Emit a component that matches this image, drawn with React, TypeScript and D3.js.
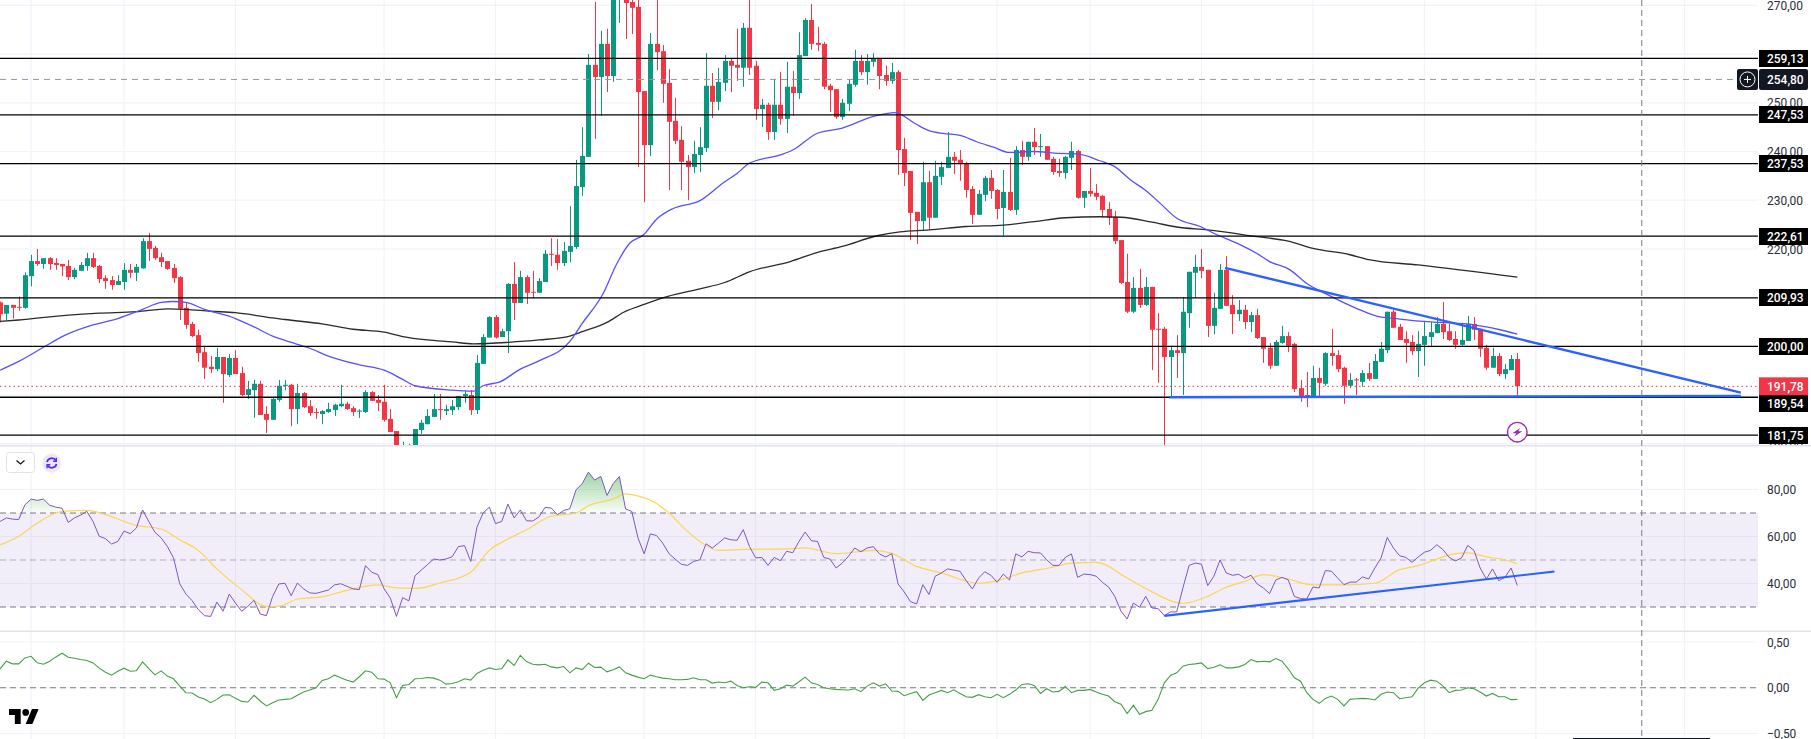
import * as d3 from "d3";

const WIDTH = 1811;
const HEIGHT = 739;

const opens = [
  209.0,206.7,208.5,208.1,207.9,214.4,217.5,216.9,218.1,217.1,
  216.9,216.5,214.2,215.5,216.5,218.1,216.5,214.0,213.6,212.6,
  213.2,215.7,215.1,216.0,221.6,220.2,218.3,217.5,216.1,214.2,
  207.9,204.6,202.3,198.8,195.8,195.3,197.8,194.1,197.6,194.5,
  190.0,191.0,192.3,186.1,184.9,189.0,191.9,192.1,187.1,190.4,
  187.7,186.5,186.1,186.5,186.9,187.7,188.2,187.3,186.6,186.5,
  190.6,189.0,188.6,185.1,182.6,178.0,179.0,178.9,182.8,184.0,
  185.5,187.1,186.7,186.9,187.5,189.8,190.0,186.9,196.4,201.8,
  206.0,201.9,203.1,212.8,208.9,214.2,211.2,211.0,213.2,219.0,
  218.8,217.1,219.4,220.4,232.7,238.9,257.8,255.3,262.1,255.5,
  271.5,274.0,270.7,269.7,252.4,241.3,262.1,260.6,254.1,246.3,
  242.4,238.1,236.8,239.3,240.7,253.5,250.2,254.1,258.6,257.8,
  257.2,265.4,257.6,248.7,249.6,244.0,249.6,246.7,253.3,252.0,
  259.6,267.0,262.3,262.1,253.5,252.8,247.1,249.8,253.7,258.6,
  256.3,258.4,259.0,255.7,254.5,256.3,240.5,236.0,227.6,225.7,
  233.7,226.4,234.8,236.6,238.9,238.3,237.6,232.3,227.0,231.1,
  234.6,232.1,228.4,231.7,228.0,240.3,238.9,242.0,240.9,241.1,
  238.5,236.0,235.6,238.7,240.1,230.5,231.9,231.5,230.9,228.2,
  226.6,221.8,213.2,207.1,212.0,208.5,212.2,203.6,203.6,197.8,
  199.2,198.6,206.8,215.1,216.3,215.7,204.2,207.7,215.7,208.5,
  206.6,207.5,205.0,206.4,201.9,199.7,196.0,200.7,202.1,200.5,
  191.4,190.0,189.4,193.5,192.3,198.6,198.2,195.6,191.9,193.2,
  192.7,194.5,193.3,196.8,199.2,207.1,204.0,201.5,200.9,199.0,
  200.3,201.9,202.7,204.6,203.1,201.5,200.3,201.1,204.6,203.6,
  199.7,195.6,198.0,194.3,195.1,197.4,
];
const highs = [
  209.2,208.5,208.5,210.2,215.2,218.8,220.0,218.1,218.3,218.1,
  216.9,217.7,216.1,217.3,219.2,219.2,216.7,214.6,214.4,214.6,
  217.1,216.9,216.9,222.2,223.3,220.6,219.2,217.5,216.9,214.4,
  209.1,205.0,203.4,199.9,198.0,199.7,197.8,198.4,199.2,195.8,
  192.9,193.1,192.9,187.7,189.4,193.1,193.1,192.3,192.3,190.6,
  189.0,187.3,186.9,188.4,188.2,192.1,188.6,187.7,187.1,191.0,
  190.8,190.0,192.1,187.1,182.6,180.4,180.0,183.0,184.9,187.1,
  190.2,190.2,188.0,189.0,189.8,190.8,191.0,198.2,202.5,206.2,
  206.4,203.6,213.0,217.3,215.5,214.6,215.5,214.0,219.8,222.2,
  222.0,221.4,228.8,238.3,245.0,260.0,270.7,264.8,265.2,274.0,
  277.0,275.0,272.0,272.0,252.4,264.3,272.0,261.9,256.9,251.0,
  245.2,239.3,242.2,245.0,260.2,256.1,257.2,259.8,259.0,265.2,
  266.4,271.5,258.6,250.8,250.0,254.9,256.3,258.4,256.5,264.5,
  267.4,270.3,265.6,262.5,253.9,252.8,250.8,254.9,260.9,259.8,
  260.0,260.2,259.0,257.6,258.2,256.7,242.8,236.0,227.6,237.9,
  236.0,238.1,237.9,244.0,239.9,240.3,237.9,232.9,232.1,235.0,
  236.2,232.3,236.2,238.7,241.1,242.2,242.0,244.8,243.6,241.1,
  238.9,238.5,239.1,242.0,240.3,231.9,236.6,233.3,231.1,229.6,
  227.8,221.8,219.0,214.2,215.9,214.2,212.2,206.8,204.0,200.1,
  202.3,210.1,215.3,218.8,220.0,215.7,211.0,216.9,218.5,210.5,
  209.5,208.5,207.1,207.7,201.9,200.7,201.3,204.2,202.9,200.7,
  193.1,194.7,196.0,195.6,198.8,203.6,199.2,195.8,194.5,193.5,
  195.1,196.6,198.4,200.9,207.1,207.5,204.6,203.1,202.3,203.1,
  205.2,205.0,206.0,209.1,204.6,203.1,204.8,206.2,206.0,203.6,
  200.3,199.7,198.6,196.4,198.2,198.6,
];
const lows = [
  204.9,205.4,205.7,207.3,207.7,212.3,216.5,215.9,215.7,215.7,
  214.4,213.6,213.8,215.5,215.5,216.1,213.0,211.8,211.6,212.6,
  211.6,214.0,213.4,215.9,217.5,217.7,216.3,215.7,213.0,205.4,
  203.6,201.9,196.8,193.3,194.5,194.9,188.4,193.7,194.3,189.8,
  189.2,185.3,185.9,182.2,184.9,188.6,191.0,183.6,184.0,187.3,
  185.7,185.1,184.0,186.3,185.7,187.5,186.9,185.7,185.3,186.3,
  188.8,186.7,184.5,182.4,178.8,177.0,178.0,178.5,182.0,184.0,
  185.5,184.9,185.9,185.9,186.9,188.4,185.9,186.1,196.4,201.8,
  201.6,201.9,198.6,205.4,208.9,208.7,209.9,211.0,213.2,216.5,
  215.7,216.5,217.3,220.0,230.9,238.9,242.6,247.3,252.2,254.3,
  266.4,263.1,264.1,236.8,229.6,239.1,256.7,250.0,232.1,241.5,
  232.1,230.0,235.6,235.8,239.9,246.9,248.5,252.4,252.2,254.5,
  253.3,255.7,246.5,245.0,242.4,242.4,245.5,243.8,247.3,250.8,
  259.6,260.9,260.6,252.8,248.1,246.7,246.5,248.3,253.3,255.7,
  253.7,257.4,252.8,253.5,253.9,235.2,232.9,221.8,221.0,223.9,
  224.1,226.4,233.1,236.6,235.4,234.0,230.5,225.1,227.0,229.8,
  230.3,226.1,222.7,227.8,227.0,237.2,238.1,239.3,238.9,238.3,
  235.2,234.8,234.4,236.2,230.3,228.4,230.7,230.0,226.4,224.9,
  221.0,212.8,206.8,206.8,207.9,208.3,195.1,192.5,179.5,189.6,
  193.5,190.0,203.8,209.9,214.0,201.9,202.5,207.7,208.3,202.5,
  205.2,203.6,202.9,201.5,196.6,195.3,196.0,200.5,198.8,190.6,
  188.6,187.5,189.4,189.4,191.9,196.0,194.7,188.2,191.4,190.0,
  191.7,192.9,193.3,196.8,198.6,203.8,201.3,196.6,198.2,193.7,
  196.0,200.1,202.7,201.5,201.1,199.5,200.1,201.1,201.3,197.8,
  195.1,195.6,193.9,193.3,195.1,189.6,
];
const closes = [
  206.6,208.5,207.9,207.9,214.6,217.5,216.9,218.1,216.9,216.7,
  216.4,214.2,215.7,216.7,218.1,216.3,213.8,213.4,212.6,213.4,
  215.7,215.1,216.3,221.6,220.0,218.1,217.3,215.9,214.0,207.7,
  204.4,202.1,198.6,195.6,195.3,197.8,194.3,197.6,194.3,190.0,
  191.2,192.3,185.9,184.9,189.2,191.9,192.1,187.1,190.4,187.5,
  186.3,186.3,186.7,187.1,188.0,188.2,187.1,186.5,186.8,190.6,
  188.8,188.4,184.9,182.4,179.2,179.0,178.5,183.0,184.3,185.7,
  187.1,186.9,187.1,187.7,189.8,190.2,186.9,196.6,201.9,206.0,
  201.8,203.1,212.8,208.9,214.2,211.0,211.0,213.4,219.0,218.8,
  217.1,219.6,220.6,232.9,239.1,257.8,255.3,262.1,255.5,272.5,
  275.0,270.5,269.5,252.2,241.3,262.1,260.4,253.9,246.1,242.2,
  237.9,236.8,239.5,240.9,253.5,250.2,254.3,258.6,257.6,257.2,
  265.4,257.2,248.7,249.6,244.0,249.6,246.7,253.3,252.0,259.8,
  267.0,262.1,261.9,253.3,252.6,247.1,250.0,253.9,258.6,256.3,
  258.6,259.0,255.5,254.5,256.3,240.3,235.6,227.4,225.7,233.7,
  226.4,235.0,236.8,238.9,238.1,237.4,232.1,227.0,231.3,234.6,
  231.9,228.2,231.7,228.0,240.3,238.9,242.0,240.9,241.1,238.3,
  235.8,235.6,238.9,240.1,230.5,231.9,231.3,230.7,228.0,226.4,
  221.6,213.0,207.1,212.0,208.5,212.2,203.4,203.4,197.8,199.2,
  198.6,207.1,215.3,216.3,215.5,204.2,207.9,215.7,208.3,206.6,
  207.5,205.0,206.4,201.7,199.5,196.0,200.9,202.1,200.1,191.2,
  189.8,189.4,193.5,192.5,198.6,198.0,195.3,191.9,193.1,193.0,
  194.5,193.3,197.0,199.5,207.1,203.8,201.3,200.7,199.0,200.5,
  202.1,202.9,204.6,202.9,201.3,200.3,201.3,204.6,203.4,199.5,
  195.6,198.0,194.3,195.3,197.4,191.8,
];

const fastMa: [number, number][] = [
  [0,195.1],[3,196.9],[7,199.8],[10,202.0],[15,204.4],[19,205.7],[23,207.6],[26,209.0],[28,209.2],[30,209.0],
  [33,207.6],[38,205.7],[41,204.0],[44,202.1],[46,201.2],[50,199.6],[53,198.0],[58,196.2],[62,195.1],[65,193.2],
  [67,191.9],[73,191.0],[76.4,190.8],[78,191.9],[80.7,192.7],[84,195.3],[87,197.0],[92,201.0],[94,204.7],[97.4,210.9],
  [99.6,217.0],[101.7,221.2],[103.9,222.9],[106,226.1],[108.7,228.3],[113,229.9],[116.8,233.6],[119,235.5],[121,237.6],[126,239.3],
  [128,240.3],[131.9,243.7],[136,244.8],[141,247.2],[144.5,248.0],[147.8,245.7],[150,244.3],[152.3,243.7],[155,243.3],[157.7,242.0],
  [160.4,240.9],[163,239.8],[166.9,240.0],[171,239.6],[173.9,239.5],[177.6,238.1],[180,236.9],[182.5,234.2],[185,232.0],[187.3,229.4],
  [190,226.3],[193.8,224.6],[196.5,222.9],[199.7,221.2],[202.9,219.1],[205,217.4],[208.3,215.7],[211,212.9],[214.2,210.7],[219,207.8],
  [222.3,206.2],[226,205.6],[229.9,205.1],[232.5,204.9],[238,204.4],[242.2,203.4],[245,202.5],
];
const slowMa: [number, number][] = [
  [0,205.1],[3,205.4],[11,206.4],[16,206.8],[22,207.1],[27,207.7],[30,207.6],[34,207.2],[38,206.9],[41,206.4],
  [43,206.0],[46,205.5],[52,204.6],[57,203.5],[62,202.9],[65,202.0],[69,201.3],[73,200.9],[76.4,200.5],[82,200.8],
  [87,201.3],[92,202.1],[94,203.0],[98,204.9],[100.7,207.0],[104,208.6],[107.7,210.2],[113,211.8],[117,213.1],[121,215.3],
  [127.6,217.4],[132,219.3],[136,220.5],[141.6,222.7],[145.3,223.5],[150,223.9],[156,224.6],[162,224.9],[167,225.6],[172,226.4],
  [177.6,226.6],[181,226.5],[186,225.5],[190,224.5],[195,223.9],[203,222.5],[208,221.6],[212,220.1],[218,218.8],[221,217.8],
  [229,216.7],[245,214.2],
];

const rsi = [
  66.4,67.9,67.4,67.2,73.5,75.9,75.4,75.9,73.3,72.5,72.0,66.0,67.9,69.1,70.7,66.4,60.1,59.1,56.8,57.9,
  62.3,61.2,63.6,71.3,66.4,61.8,59.4,55.8,50.9,39.9,35.5,32.7,28.9,26.3,26.0,32.1,28.2,35.5,31.7,28.2,
  30.3,32.8,27.0,26.3,34.5,39.8,40.1,34.8,40.2,37.7,36.0,35.8,36.5,37.2,39.4,39.9,38.8,37.7,37.4,47.6,
  44.8,43.8,37.8,33.8,26.0,34.0,32.6,43.3,45.7,48.0,50.4,50.0,50.4,51.4,55.7,56.1,49.4,64.0,70.0,72.5,
  65.5,66.4,73.8,67.9,71.3,66.7,66.6,68.3,72.4,72.1,69.3,71.1,71.8,79.9,82.5,87.4,84.0,85.6,77.5,82.5,
  85.5,71.7,70.7,59.4,52.6,61.1,60.4,57.2,52.7,50.4,48.2,47.7,49.4,50.1,56.9,55.1,57.2,59.4,58.6,58.4,
  62.9,55.8,50.9,51.1,47.7,51.1,49.7,53.7,53.1,57.9,61.9,58.2,57.9,51.1,50.4,46.6,48.7,51.6,55.1,53.5,
  55.1,55.7,52.6,51.3,52.7,39.8,36.4,32.3,31.3,39.5,35.3,43.1,44.5,46.2,45.7,45.2,41.2,37.7,42.3,45.0,
  43.5,40.5,44.0,41.5,52.6,51.3,53.7,53.1,53.0,50.1,47.7,47.7,51.1,52.6,42.6,44.0,43.8,43.1,40.5,38.5,
  34.5,28.2,24.9,31.7,29.9,34.5,29.6,29.3,26.3,27.9,27.9,38.1,47.7,48.7,48.2,39.1,43.1,50.0,44.5,43.5,
  43.9,42.3,43.5,39.8,38.1,35.7,41.5,42.6,41.6,34.5,33.6,33.4,38.5,38.1,45.5,45.2,42.3,39.5,40.6,40.6,
  42.8,41.9,46.6,50.9,59.6,55.1,51.8,51.1,49.0,51.3,53.3,54.1,56.5,54.4,51.1,49.6,50.9,56.2,54.1,46.6,
  41.9,46.2,41.2,42.6,46.6,39.2,
];
const rsiMa: [number, number][] = [
  [0,56.4],[3,60.1],[6,65.7],[9,70.0],[10,70.7],[14,71.1],[17,69.3],[22,64.7],[26,63.2],[29,58.6],
  [32,54.1],[35,46.2],[39,37.4],[43,30.3],[45,30.3],[48,33.4],[52,34.3],[56,37.1],[61,39.4],[64,38.1],
  [67,37.9],[71,40.2],[76,44.8],[79,54.1],[82,58.9],[85,62.9],[89,68.6],[93,70.0],[95,73.1],[99,75.9],
  [101,78.1],[102,77.8],[106,74.0],[108,70.0],[111,62.2],[113,57.9],[116,54.1],[120,54.5],[127,54.7],[130,55.2],
  [135,52.7],[141,54.1],[144,52.8],[148,47.3],[152,44.5],[158,40.1],[161,41.2],[165,44.5],[170,46.9],[173,48.7],
  [177,49.0],[182,42.3],[185,37.9],[191,31.6],[195,34.5],[198,38.4],[201,40.9],[204,43.8],[208,41.9],[212,39.4],
  [217,39.4],[222,40.1],[226,45.9],[229,47.6],[232,50.4],[235,52.7],[237,53.0],[240,51.3],[243,50.1],[245,48.4],
];
const oscillator = [
  .207,.290,.261,.261,.326,.344,.272,.257,.290,.337,.377,.333,.322,.308,.297,.272,.214,.170,.138,.181,
  .214,.181,.185,.283,.210,.141,.185,.127,.098,.018,-.054,-.058,-.101,-.123,-.163,-.127,-.080,-.076,-.116,-.149,
  -.156,-.083,-.145,-.199,-.163,-.134,-.127,-.120,-.083,-.047,-.025,0,.080,.098,.138,.109,.083,.062,.120,.185,
  .170,.098,.094,.054,-.109,.025,.036,.098,.101,.112,.105,.083,.040,.047,.065,.098,.083,.156,.192,.217,
  .199,.207,.304,.243,.355,.286,.257,.250,.257,.228,.217,.232,.163,.217,.199,.268,.221,.225,.174,.196,
  .228,.163,.138,.116,.098,.138,.120,.105,.098,.087,.087,.091,.109,.087,.087,.051,.062,.054,.072,.025,
  0,.011,.004,.062,.054,-.029,-.011,.029,.018,.065,.116,.054,.036,0,-.011,-.018,-.022,-.025,-.011,-.043,
  .018,.054,.018,.043,-.036,-.040,-.087,-.062,-.043,-.138,-.080,-.054,-.029,-.054,-.022,-.062,-.098,-.105,-.076,-.098,
  -.109,-.072,-.109,-.072,-.025,.036,.043,.025,-.062,-.011,-.047,-.040,.014,-.054,-.029,-.029,-.018,-.047,-.072,-.091,
  -.152,-.181,-.283,-.192,-.290,-.261,-.246,-.127,.054,.134,.163,.236,.254,.261,.272,.210,.225,.250,.217,.217,
  .228,.254,.308,.283,.290,.283,.319,.290,.207,.109,.072,-.054,-.127,-.170,-.116,-.091,-.127,-.199,-.127,-.120,
  -.116,-.120,-.134,-.072,-.047,-.054,-.120,-.109,-.098,-.004,.054,.083,.072,.018,-.054,-.029,-.025,0,-.011,-.047,
  -.091,-.062,-.098,-.098,-.130,-.127,
];

const levels = [259.13, 247.53, 237.53, 222.61, 209.93, 200.0, 189.54, 181.75];
const lastClose = 191.78;
const crosshairPrice = 254.8;
const crosshairBar = 265.1;
const priceTicks = [270, 260, 250, 240, 230, 220, 210, 200, 190, 180];
const rsiTicks = [80, 60, 40];
const rsiBands = [70, 50, 30];
const oscTicks = [0.5, 0, -0.5];
const timeGridBars = [5, 20, 38, 62, 80, 104, 122, 146, 161, 176, 194, 212, 230, 248, 272];

// trend lines: [bar, value] pairs
const fallingLine: [number, number][] = [[197.8, 216.1], [281.1, 190.5]];
const supportLine: [number, number][] = [[188.8, 189.55], [281.1, 189.8]];
const rsiLine: [number, number][] = [[188, 26.2], [251, 45.1]];

const AXIS_X = 1758;
const MAIN_BOTTOM = 445;
const RSI_BOTTOM = 631;

const x = d3.scaleLinear().domain([0, 245]).range([0.14, 1517.3]);
const yPrice = d3.scaleLinear().domain([270, 180]).range([5.4, 443.7]);
const yRsi = d3.scaleLinear().domain([70, 30]).range([513, 607]);
const yOsc = d3.scaleLinear().domain([0.5, -0.5]).range([642, 733.5]);

const fmt = d3.formatLocale({ decimal: ",", thousands: ".", grouping: [3], currency: ["", ""], minus: "\u2212" }).format(".2f");

const GREEN = "#089981";
const RED = "#f23645";
const GRID = "#f0f3fa";
const DASH = "#787b86";
const FONT = "Roboto, 'Liberation Sans', sans-serif";

const pairLine = (y: d3.ScaleLinear<number, number>, smooth = false) => {
  const l = d3.line<[number, number]>().x((d) => x(d[0])).y((d) => y(d[1]));
  return smooth ? l.curve(d3.curveMonotoneX) : l;
};

const rsiPairs = rsi.map((v, i) => [i, v] as [number, number]);
const oscPairs = oscillator.map((v, i) => [i, v] as [number, number]);

function priceLabels() {
  // labels sit on their price, one that would overlap the last price is pushed below it
  const h = 18;
  const lastTop = yPrice(lastClose) - h / 2;
  return levels.map((p) => {
    let top = yPrice(p) - h / 2 + 0.5;
    if (top < lastTop + h && top > lastTop - h) top = lastTop + h;
    return { p, top: Math.round(top), h: 17 };
  });
}

// axis text in the reference is a bit narrower than the font, so squeeze it
function AxisText({ y, label, light }: { y: number; label: string; light?: boolean }) {
  return (
    <text
      transform={`translate(1767,${y}) scale(0.92,1)`}
      dy="0.36em"
      fontFamily={FONT}
      fontSize={13}
      fontWeight={light ? 500 : 400}
      fill={light ? "#fff" : "#2a2e39"}
    >
      {label}
    </text>
  );
}

export default function App() {
  return (
    <svg
      width={WIDTH}
      height={HEIGHT}
      viewBox={`0 0 ${WIDTH} ${HEIGHT}`}
      style={{ position: "absolute", left: 0, top: 0, display: "block", background: "#fff" }}
    >
      <defs>
        <clipPath id="mainClip"><rect x={0} y={0} width={AXIS_X} height={MAIN_BOTTOM} /></clipPath>
        <clipPath id="mainAxisClip"><rect x={AXIS_X} y={0} width={WIDTH - AXIS_X} height={MAIN_BOTTOM} /></clipPath>
        <clipPath id="above70"><rect x={0} y={445} width={AXIS_X} height={yRsi(70) - 445} /></clipPath>
        <clipPath id="below30"><rect x={0} y={yRsi(30)} width={AXIS_X} height={RSI_BOTTOM - yRsi(30)} /></clipPath>
        <linearGradient id="obFill" gradientUnits="userSpaceOnUse" x1={0} x2={0} y1={yRsi(88)} y2={yRsi(70)}>
          <stop offset="0" stopColor="#4caf50" stopOpacity={0.55} />
          <stop offset="1" stopColor="#4caf50" stopOpacity={0.03} />
        </linearGradient>
      </defs>

      {/* grid */}
      <g stroke={GRID} strokeWidth={1.2}>
        {timeGridBars.map((b) => (
          <line key={b} x1={x(b)} x2={x(b)} y1={0} y2={HEIGHT} />
        ))}
        {priceTicks.map((t) => (
          <line key={t} x1={0} x2={AXIS_X} y1={yPrice(t)} y2={yPrice(t)} />
        ))}
        {rsiTicks.map((t) => (
          <line key={t} x1={0} x2={AXIS_X} y1={yRsi(t)} y2={yRsi(t)} />
        ))}
        {oscTicks.map((t) => (
          <line key={t} x1={0} x2={AXIS_X} y1={yOsc(t)} y2={yOsc(t)} />
        ))}
      </g>

      {/* main pane */}
      <g clipPath="url(#mainClip)">
        {opens.map((o, i) => {
          const c = closes[i];
          const col = c >= o ? GREEN : RED;
          const cx = Math.round(x(i));
          const top = yPrice(Math.max(o, c));
          const bot = yPrice(Math.min(o, c));
          return (
            <g key={i}>
              <line x1={cx + 0.5} x2={cx + 0.5} y1={yPrice(highs[i])} y2={yPrice(lows[i])} stroke={col} strokeWidth={1} />
              <rect x={cx - 2} y={top} width={5} height={Math.max(bot - top, 1)} fill={col} />
            </g>
          );
        })}
        <path d={pairLine(yPrice, true)(slowMa) ?? ""} fill="none" stroke="#2a2a2a" strokeWidth={1.3} />
        <path d={pairLine(yPrice, true)(fastMa) ?? ""} fill="none" stroke="#5650ff" strokeWidth={1.3} />

        <line x1={0} x2={AXIS_X} y1={yPrice(lastClose)} y2={yPrice(lastClose)} stroke={RED} strokeWidth={1} strokeDasharray="1.5 3" />
        {levels.map((p) => (
          <line key={p} x1={0} x2={AXIS_X} y1={yPrice(p)} y2={yPrice(p)} stroke="#000" strokeWidth={1.3} />
        ))}
        <path d={pairLine(yPrice)(fallingLine) ?? ""} fill="none" stroke="#2962ff" strokeWidth={2.4} />
        <path d={pairLine(yPrice)(supportLine) ?? ""} fill="none" stroke="#2962ff" strokeWidth={2.4} />
        <line x1={0} x2={AXIS_X - 21} y1={yPrice(crosshairPrice)} y2={yPrice(crosshairPrice)} stroke="#9598a1" strokeWidth={1} strokeDasharray="6 5" />

        {/* lightning marker on the last bar */}
        <g transform={`translate(${x(245)},${yPrice(181.75) - 3})`}>
          <circle r={9.8} fill="#fff" stroke="#9c27b0" strokeWidth={1.4} />
          <path d="M2.8,-4.2 L-5,1 L-1,1 L-3,4.4 L5,-1 L1,-1 Z" fill="#9c27b0" />
        </g>
      </g>

      {/* rsi pane */}
      <rect x={0} y={yRsi(70)} width={AXIS_X} height={yRsi(30) - yRsi(70)} fill="#7e57c2" fillOpacity={0.1} />
      <path
        d={d3.area<[number, number]>().x((d) => x(d[0])).y0(yRsi(70)).y1((d) => yRsi(d[1]))(rsiPairs) ?? ""}
        fill="url(#obFill)"
        clipPath="url(#above70)"
      />
      <path
        d={d3.area<[number, number]>().x((d) => x(d[0])).y0(yRsi(30)).y1((d) => yRsi(d[1]))(rsiPairs) ?? ""}
        fill="#f23645"
        fillOpacity={0.07}
        clipPath="url(#below30)"
      />
      {rsiBands.map((b) => (
        <line
          key={b}
          x1={0}
          x2={AXIS_X}
          y1={yRsi(b)}
          y2={yRsi(b)}
          stroke={DASH}
          strokeOpacity={b === 50 ? 0.55 : 1}
          strokeWidth={1}
          strokeDasharray="6 4"
        />
      ))}
      <path d={pairLine(yRsi, true)(rsiMa) ?? ""} fill="none" stroke="#fdd54f" strokeWidth={1.2} />
      <path d={pairLine(yRsi)(rsiPairs) ?? ""} fill="none" stroke="#7e57c2" strokeWidth={1} />
      <path d={pairLine(yRsi)(rsiLine) ?? ""} fill="none" stroke="#2962ff" strokeWidth={2.2} />

      {/* oscillator pane */}
      <line x1={0} x2={AXIS_X} y1={yOsc(0)} y2={yOsc(0)} stroke={DASH} strokeWidth={1} strokeDasharray="6 4" />
      <path d={pairLine(yOsc)(oscPairs) ?? ""} fill="none" stroke="#43a047" strokeWidth={1.1} />

      {/* pane separators */}
      <rect x={0} y={MAIN_BOTTOM} width={WIDTH} height={1.5} fill="#e0e3eb" />
      <rect x={0} y={RSI_BOTTOM - 0.5} width={WIDTH} height={1.5} fill="#e0e3eb" />

      {/* crosshair */}
      <line x1={x(crosshairBar)} x2={x(crosshairBar)} y1={0} y2={HEIGHT} stroke={DASH} strokeWidth={1} strokeDasharray="6 4" />

      {/* axis */}
      <g clipPath="url(#mainAxisClip)">
        {priceTicks.map((t) => (
          <AxisText key={t} y={yPrice(t)} label={fmt(t)} />
        ))}
        {priceLabels().map((l) => (
          <g key={l.p}>
            <rect x={1759} y={l.top} width={49} height={l.h} fill="#000" />
            <AxisText y={l.top + l.h / 2} label={fmt(l.p)} light />
          </g>
        ))}
        <rect x={1759} y={yPrice(lastClose) - 9} width={49} height={18} fill={RED} />
        <AxisText y={yPrice(lastClose)} label={fmt(lastClose)} light />
        <rect x={1759} y={yPrice(crosshairPrice) - 10.5} width={49} height={21} rx={2} fill="#131722" />
        <AxisText y={yPrice(crosshairPrice)} label={fmt(crosshairPrice)} light />
      </g>
      <rect x={1737} y={yPrice(crosshairPrice) - 10.5} width={21} height={21} rx={2} fill="#131722" />
      <g transform={`translate(1747.5,${yPrice(crosshairPrice)})`} stroke="#fff" fill="none" strokeWidth={1}>
        <circle r={7.5} />
        <path d="M-3.5,0H3.5M0,-3.5V3.5" />
      </g>

      {rsiTicks.map((t) => (
        <AxisText key={t} y={yRsi(t)} label={fmt(t)} />
      ))}
      {oscTicks.map((t) => (
        <AxisText key={t} y={yOsc(t)} label={fmt(t)} />
      ))}

      {/* legend toggle and refresh button */}
      <rect x={6.5} y={452.5} width={28} height={20} rx={3} fill="#fff" stroke="#e0e3eb" />
      <path d="M16.5,460.5 L20.5,464 L24.5,460.5" fill="none" stroke="#131722" strokeWidth={1.3} />
      <circle cx={51.7} cy={463} r={9.5} fill="#ede7fb" />
      <g fill="none" stroke="#5a2bff" strokeWidth={1.8} transform="translate(51.7,463)">
        <path d="M-4.8,-1 A5,5 0 0 1 4.2,-2.6" />
        <path d="M4.8,1 A5,5 0 0 1 -4.2,2.6" />
        <path d="M4.6,-5.2 V-1.8 H1.4" strokeWidth={1.4} />
        <path d="M-4.6,5.2 V1.8 H-1.4" strokeWidth={1.4} />
      </g>

      {/* logo */}
      <g transform="translate(9,705.7) scale(0.835)" fill="#000">
        <path d="M14 22H7V11H0V4h14v18zM28 22h-8l7.5-18h8L28 22z" />
        <circle cx={20} cy={8} r={4} />
      </g>

      <line x1={1573} x2={1710} y1={738.5} y2={738.5} stroke="#131722" strokeWidth={1} />
    </svg>
  );
}
